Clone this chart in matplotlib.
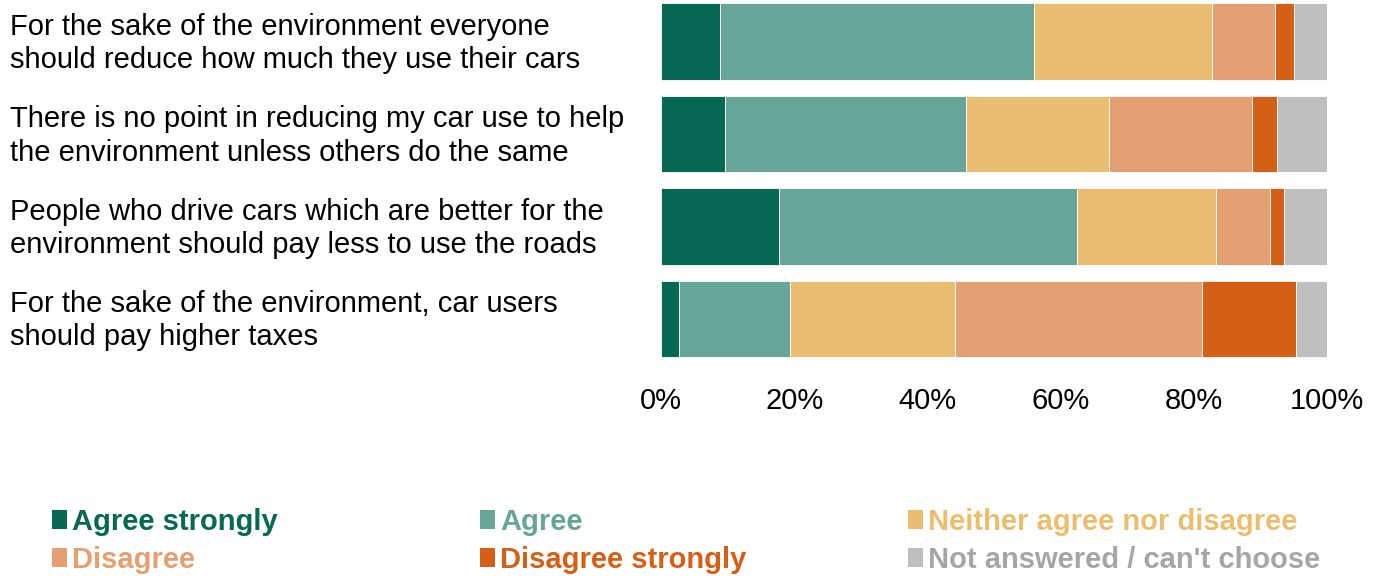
import matplotlib
matplotlib.use('Agg')
import matplotlib.pyplot as plt
from matplotlib.patches import Patch
from matplotlib.transforms import ScaledTranslation
import numpy as np

plt.rcParams['font.family'] = ['Liberation Sans', 'DejaVu Sans']

# Statements (top to bottom) and response shares in %
statements = [
    "For the sake of the environment everyone\nshould reduce how much they use their cars",
    "There is no point in reducing my car use to help\nthe environment unless others do the same",
    "People who drive cars which are better for the\nenvironment should pay less to use the roads",
    "For the sake of the environment, car users\nshould pay higher taxes",
]
categories = ["Agree strongly", "Agree", "Neither agree nor disagree",
              "Disagree", "Disagree strongly", "Not answered / can't choose"]
agree_strongly = [8.9, 9.6, 17.7, 2.7]
agree = [47.1, 36.2, 44.7, 16.7]
neither = [26.7, 21.4, 21.0, 24.8]
disagree = [9.5, 21.5, 8.0, 37.0]
disagree_strongly = [2.8, 3.8, 2.2, 14.1]
not_answered = [5.0, 7.5, 6.4, 4.7]

series = [agree_strongly, agree, neither, disagree, disagree_strongly, not_answered]
colors = ["#046852", "#66A598", "#E9BE70", "#E3A073", "#D45F17", "#BFBFBF"]
text_colors = ["#046852", "#66A598", "#E9BE70", "#E3A073", "#D45F17", "#A6A6A6"]

fig = plt.figure(figsize=(13.8, 5.78), dpi=100)
ax = fig.add_axes([661 / 1380, 1 - 360.6 / 578, 666 / 1380, 360.6 / 578])

y = np.arange(len(statements))
left = np.zeros(len(statements))
for vals, col in zip(series, colors):
    ax.barh(y, vals, left=left, height=0.83, color=col, edgecolor='white', linewidth=0.6)
    left += np.array(vals)

ax.set_xlim(0, 100)
ax.set_ylim(3.45, -0.45)
ax.set_xticks([0, 20, 40, 60, 80, 100])
ax.set_xticklabels([f"{v}%" for v in [0, 20, 40, 60, 80, 100]])
ax.set_yticks(y)
ax.set_yticklabels(statements, ha='left', linespacing=1.25)
ax.tick_params(axis='x', length=0, pad=19, labelsize=21)
ax.tick_params(axis='y', length=0, pad=(661 - 10) * 0.72, labelsize=21)
# lift the statement labels a little above the bar centres
for lbl in ax.get_yticklabels():
    lbl.set_transform(lbl.get_transform() + ScaledTranslation(0, 0.04, fig.dpi_scale_trans))
for s in ax.spines.values():
    s.set_visible(False)

# legend: three columns of two entries each
cols_x = [52 / 1380, 480 / 1380, 908 / 1380]
for c in range(3):
    idx = [c, c + 3]
    handles = [Patch(facecolor=colors[i], edgecolor='none') for i in idx]
    leg = fig.legend(handles, [categories[i] for i in idx], loc='upper left',
                     bbox_to_anchor=(cols_x[c], 1 - 508 / 578), frameon=False,
                     prop={'size': 21, 'weight': 'bold'},
                     handlelength=0.5, handleheight=0.6, handletextpad=0.2,
                     labelspacing=0.33, borderaxespad=0, borderpad=0)
    for t, i in zip(leg.get_texts(), idx):
        t.set_color(text_colors[i])

fig.savefig("out.png", dpi=100)
